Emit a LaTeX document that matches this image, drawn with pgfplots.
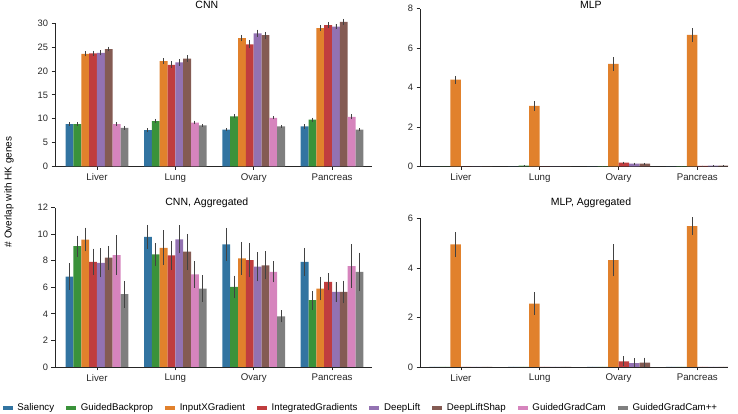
\documentclass[border=0pt]{standalone}
\usepackage{fontspec}
\setmainfont{Liberation Sans}
\usepackage{pgfplots}
\pgfplotsset{compat=1.18}

\definecolor{cSal}{HTML}{3274A1}
\definecolor{cGBP}{HTML}{3A923A}
\definecolor{cIXG}{HTML}{E1812C}
\definecolor{cIG}{HTML}{C03D3E}
\definecolor{cDL}{HTML}{9372B2}
\definecolor{cDLS}{HTML}{845B53}
\definecolor{cGGC}{HTML}{D684BD}
\definecolor{cGGCpp}{HTML}{7F7F7F}
\definecolor{spine}{gray}{0.15}
\definecolor{errc}{gray}{0.26}

\pgfplotsset{
  bar/.style={fill=#1, draw=none,
    legend image code/.code={\fill[#1] (0pt,-1.6pt) rectangle (10pt,1.6pt);}},
  base/.style={
    scale only axis, anchor=south west,
    ybar=0pt, ymin=0,
    axis x line*=bottom, axis y line*=left,
    y axis line style={draw=none},
    x axis line style={spine, line width=0.8pt},
    tick style={spine, line width=0.8pt},
    tick align=outside, major tick length=3.5pt,
    xtick={0,1,2,3}, xticklabels={Liver,Lung,Ovary,Pancreas},
    xticklabel style={font=\fontsize{9.7}{11}\selectfont, text=spine},
    yticklabel style={font=\fontsize{9.3}{11}\selectfont, text=spine},
    /pgf/number format/assume math mode=true,
    title style={anchor=base, font=\fontsize{10.5}{12}\selectfont, text=black},
    error bars/y dir=both, error bars/y explicit,
    error bars/error mark=none,
    error bars/error bar style={errc, line width=0.9pt},
  },
  toprow/.style={height=158pt, title style={yshift=-6.5pt}},
  botrow/.style={height=160pt, title style={yshift=-4.5pt}},
  cnn/.style={base, width=317pt, bar width=0.1, xmin=-0.536, xmax=3.51,
    title style={at={(0.479,1)}}},
  mlp/.style={base, width=308pt, bar width=0.13333, xmin=-0.52, xmax=3.39,
    title style={at={(0.555,1)}}},
}

\begin{document}
\begin{tikzpicture}
\useasboundingbox (0,0) rectangle (738pt,414pt);

% CNN
\begin{axis}[cnn, toprow, at={(55pt,247.5pt)}, ymax=33.1,
  ytick={0,5,...,30}, title={CNN}]
\addplot[bar=cSal] coordinates {(0,8.9) +- (0,0.4) (1,7.6) +- (0,0.4) (2,7.7) +- (0,0.3) (3,8.4) +- (0,0.45)};
\addplot[bar=cGBP] coordinates {(0,8.9) +- (0,0.4) (1,9.5) +- (0,0.45) (2,10.5) +- (0,0.4) (3,9.8) +- (0,0.45)};
\addplot[bar=cIXG] coordinates {(0,23.6) +- (0,0.55) (1,22.1) +- (0,0.55) (2,26.9) +- (0,0.65) (3,29.0) +- (0,0.6)};
\addplot[bar=cIG] coordinates {(0,23.7) +- (0,0.5) (1,21.3) +- (0,0.7) (2,25.6) +- (0,0.85) (3,29.6) +- (0,0.6)};
\addplot[bar=cDL] coordinates {(0,23.8) +- (0,0.5) (1,21.8) +- (0,0.65) (2,27.9) +- (0,0.75) (3,29.3) +- (0,0.55)};
\addplot[bar=cDLS] coordinates {(0,24.6) +- (0,0.5) (1,22.6) +- (0,0.7) (2,27.5) +- (0,0.7) (3,30.3) +- (0,0.65)};
\addplot[bar=cGGC] coordinates {(0,8.9) +- (0,0.35) (1,9.2) +- (0,0.4) (2,10.2) +- (0,0.35) (3,10.4) +- (0,0.5)};
\addplot[bar=cGGCpp] coordinates {(0,8.1) +- (0,0.35) (1,8.6) +- (0,0.35) (2,8.4) +- (0,0.3) (3,7.7) +- (0,0.3)};
\draw[spine, line width=0.8pt] (rel axis cs:0,0) -- ({rel axis cs:0,0} |- {axis cs:0,30});
\end{axis}

% MLP
\begin{axis}[mlp, toprow, at={(420pt,247.5pt)}, ymax=8.01,
  ytick={0,2,...,8}, title={MLP}]
\addplot[bar=cSal] coordinates {(0,0.01) +- (0,0) (1,0.01) +- (0,0) (2,0.01) +- (0,0) (3,0.01) +- (0,0)};
\addplot[bar=cGBP] coordinates {(0,0.01) +- (0,0) (1,0.04) +- (0,0.02) (2,0.02) +- (0,0.01) (3,0.02) +- (0,0.01)};
\addplot[bar=cIXG] coordinates {(0,4.4) +- (0,0.2) (1,3.07) +- (0,0.25) (2,5.2) +- (0,0.35) (3,6.67) +- (0,0.35)};
\addplot[bar=cIG] coordinates {(0,0) +- (0,0) (1,0) +- (0,0) (2,0.2) +- (0,0.05) (3,0.03) +- (0,0.02)};
\addplot[bar=cDL] coordinates {(0,0) +- (0,0) (1,0) +- (0,0) (2,0.14) +- (0,0.05) (3,0.05) +- (0,0.02)};
\addplot[bar=cDLS] coordinates {(0,0) +- (0,0) (1,0) +- (0,0) (2,0.14) +- (0,0.04) (3,0.05) +- (0,0.02)};
\draw[spine, line width=0.8pt] (rel axis cs:0,0) -- ({rel axis cs:0,0} |- {axis cs:0,8});
\end{axis}

% CNN, Aggregated
\begin{axis}[cnn, botrow, at={(55pt,47pt)}, ymax=12.05,
  ytick={0,2,...,12}, title={CNN, Aggregated},
  legend columns=8,
  legend style={at={(0.962,-0.256)}, anchor=center, draw=none, fill=none,
    inner sep=0pt, nodes={inner sep=0pt, font=\fontsize{9.7}{11}\selectfont},
    /tikz/every odd column/.append style={column sep=4.7pt},
    /tikz/every even column/.append style={column sep=12pt}},
  legend cell align=left,
  legend entries={Saliency,GuidedBackprop,InputXGradient,IntegratedGradients,DeepLift,DeepLiftShap,GuidedGradCam,GuidedGradCam++}]
\addplot[bar=cSal] coordinates {(0,6.8) +- (0,1.0) (1,9.8) +- (0,0.9) (2,9.23) +- (0,1.25) (3,7.92) +- (0,1.05)};
\addplot[bar=cGBP] coordinates {(0,9.1) +- (0,0.8) (1,8.48) +- (0,0.85) (2,6.04) +- (0,0.85) (3,5.03) +- (0,0.7)};
\addplot[bar=cIXG] coordinates {(0,9.6) +- (0,0.9) (1,8.98) +- (0,1.3) (2,8.18) +- (0,1.25) (3,5.91) +- (0,0.9)};
\addplot[bar=cIG] coordinates {(0,7.92) +- (0,1.0) (1,8.4) +- (0,1.1) (2,8.05) +- (0,1.3) (3,6.42) +- (0,0.65)};
\addplot[bar=cDL] coordinates {(0,7.85) +- (0,1.1) (1,9.61) +- (0,1.05) (2,7.55) +- (0,1.1) (3,5.66) +- (0,0.75)};
\addplot[bar=cDLS] coordinates {(0,8.23) +- (0,0.9) (1,8.68) +- (0,1.35) (2,7.65) +- (0,1.05) (3,5.66) +- (0,0.85)};
\addplot[bar=cGGC] coordinates {(0,8.43) +- (0,1.5) (1,6.97) +- (0,1.0) (2,7.17) +- (0,0.8) (3,7.6) +- (0,1.65)};
\addplot[bar=cGGCpp] coordinates {(0,5.48) +- (0,1.0) (1,5.91) +- (0,1.0) (2,3.82) +- (0,0.45) (3,7.17) +- (0,1.45)};
\draw[spine, line width=0.8pt] (rel axis cs:0,0) -- ({rel axis cs:0,0} |- {axis cs:0,12});
\end{axis}

% MLP, Aggregated
\begin{axis}[mlp, botrow, at={(420pt,47pt)}, ymax=6.46,
  ytick={0,2,...,6}, title={MLP, Aggregated}]
\addplot[bar=cSal] coordinates {(0,0) +- (0,0) (1,0) +- (0,0) (2,0) +- (0,0) (3,0) +- (0,0)};
\addplot[bar=cGBP] coordinates {(0,0) +- (0,0) (1,0) +- (0,0) (2,0) +- (0,0) (3,0) +- (0,0)};
\addplot[bar=cIXG] coordinates {(0,4.95) +- (0,0.5) (1,2.56) +- (0,0.45) (2,4.31) +- (0,0.65) (3,5.69) +- (0,0.35)};
\addplot[bar=cIG] coordinates {(0,0) +- (0,0) (1,0) +- (0,0) (2,0.23) +- (0,0.2) (3,0) +- (0,0)};
\addplot[bar=cDL] coordinates {(0,0) +- (0,0) (1,0) +- (0,0) (2,0.16) +- (0,0.2) (3,0) +- (0,0)};
\addplot[bar=cDLS] coordinates {(0,0) +- (0,0) (1,0) +- (0,0) (2,0.18) +- (0,0.2) (3,0) +- (0,0)};
\draw[spine, line width=0.8pt] (rel axis cs:0,0) -- ({rel axis cs:0,0} |- {axis cs:0,6});
\end{axis}

\node[rotate=90, font=\fontsize{10}{12}\selectfont] at (9pt,222pt) {\# Overlap with HK genes};
\end{tikzpicture}
\end{document}
